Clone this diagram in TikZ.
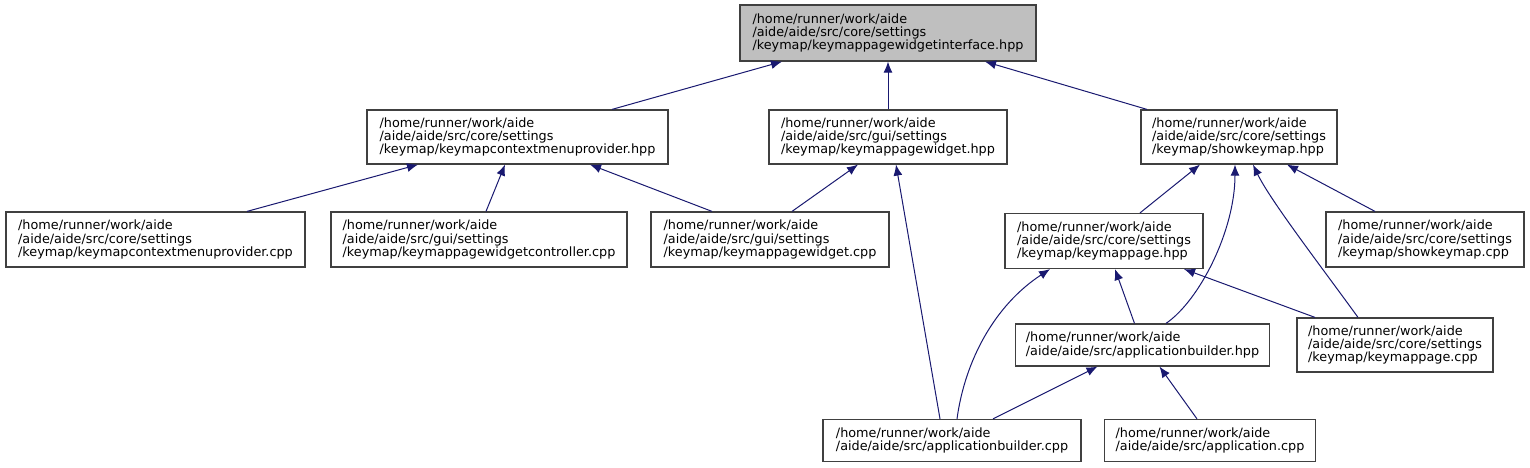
\documentclass[tikz,border=0pt]{standalone}
\usepackage{fontspec}
\setmainfont{DejaVu Sans}
\usetikzlibrary{arrows.meta}
\definecolor{navyEdge}{RGB}{25,25,112}
\definecolor{greyBorder}{RGB}{64,64,64}
\definecolor{greyFill}{RGB}{191,191,191}

\begin{document}
\begin{tikzpicture}[x=1pt,y=-1pt,
        file/.style={draw=greyBorder,line width=1.2pt,fill=white,align=left,
          inner sep=0pt,minimum height=54pt,
          font=\fontsize{12.8}{13.3}\selectfont},
        focus/.style={file,fill=greyFill},
        incl/.style={draw=navyEdge,line width=1pt,
          -{Latex[length=11pt,width=9pt]}}
      ]
        \useasboundingbox (0,0) rectangle (1530,468);

        % Le fichier inclus, en haut.
        \node[focus,minimum width=296pt,minimum height=56pt] (iface) at (888,33)
          {/home/runner/work/aide\\/aide/aide/src/core/settings\\/keymap/keymappagewidgetinterface.hpp};

        % Deuxième rang.
        \node[file,minimum width=301pt] (ctxhpp) at (517.5,137)
          {/home/runner/work/aide\\/aide/aide/src/core/settings\\/keymap/keymapcontextmenuprovider.hpp};
        \node[file,minimum width=238pt] (kpwhpp) at (888,137)
          {/home/runner/work/aide\\/aide/aide/src/gui/settings\\/keymap/keymappagewidget.hpp};
        \node[file,minimum width=196pt] (skmhpp) at (1239,137)
          {/home/runner/work/aide\\/aide/aide/src/core/settings\\/keymap/showkeymap.hpp};

        % Troisième rang.
        \node[file,minimum width=299pt,minimum height=55pt] (ctxcpp) at (155.5,239.5)
          {/home/runner/work/aide\\/aide/aide/src/core/settings\\/keymap/keymapcontextmenuprovider.cpp};
        \node[file,minimum width=296pt,minimum height=55pt] (kpwccpp) at (479,239.5)
          {/home/runner/work/aide\\/aide/aide/src/gui/settings\\/keymap/keymappagewidgetcontroller.cpp};
        \node[file,minimum width=238pt,minimum height=55pt] (kpwcpp) at (770,239.5)
          {/home/runner/work/aide\\/aide/aide/src/gui/settings\\/keymap/keymappagewidget.cpp};
        \node[file,minimum width=198pt,minimum height=55pt] (kmphpp) at (1104,241)
          {/home/runner/work/aide\\/aide/aide/src/core/settings\\/keymap/keymappage.hpp};
        \node[file,minimum width=198pt,minimum height=55pt] (skmcpp) at (1425,239.5)
          {/home/runner/work/aide\\/aide/aide/src/core/settings\\/keymap/showkeymap.cpp};

        % Quatrième rang.
        \node[file,minimum width=254pt,minimum height=42pt] (abhpp) at (1142.5,345)
          {/home/runner/work/aide\\/aide/aide/src/applicationbuilder.hpp};
        \node[file,minimum width=196pt] (kmpcpp) at (1395,345)
          {/home/runner/work/aide\\/aide/aide/src/core/settings\\/keymap/keymappage.cpp};

        % Dernier rang.
        \node[file,minimum width=258pt,minimum height=42pt] (abcpp) at (952,440.5)
          {/home/runner/work/aide\\/aide/aide/src/applicationbuilder.cpp};
        \node[file,minimum width=211pt,minimum height=42pt] (appcpp) at (1210,440.5)
          {/home/runner/work/aide\\/aide/aide/src/application.cpp};

        % Les inclusions.
        \draw[incl] ([xshift=94.5pt]ctxhpp.north) -- ([xshift=-106pt]iface.south);
        \draw[incl] (kpwhpp.north) -- (iface.south);
        \draw[incl] ([xshift=-92pt]skmhpp.north) -- ([xshift=97pt]iface.south);

        \draw[incl] ([xshift=91.5pt]ctxcpp.north) -- ([xshift=-99.5pt]ctxhpp.south);
        \draw[incl] ([xshift=7pt]kpwccpp.north) -- ([xshift=-12.5pt]ctxhpp.south);
        \draw[incl] ([xshift=-58pt]kpwcpp.north) -- ([xshift=72.5pt]ctxhpp.south);
        \draw[incl] ([xshift=22pt]kpwcpp.north) -- ([xshift=-30pt]kpwhpp.south);
        \draw[incl] ([xshift=-12pt]abcpp.north) -- ([xshift=8pt]kpwhpp.south);

        \draw[incl] ([xshift=36pt]kmphpp.north) -- ([xshift=-39pt]skmhpp.south);
        \draw[incl] ([xshift=23.5pt]abhpp.north)
          .. controls (1200,300) and (1235,230) .. ([xshift=-4pt]skmhpp.south);
        \draw[incl] ([xshift=-37pt]kmpcpp.north)
          .. controls (1320,265) and (1270,200) .. ([xshift=14pt]skmhpp.south);
        \draw[incl] ([xshift=-50pt]skmcpp.north) -- ([xshift=48pt]skmhpp.south);

        \draw[incl] ([xshift=5pt]abcpp.north)
          .. controls (965,360) and (995,305) .. ([xshift=-54pt]kmphpp.south);
        \draw[incl] ([xshift=-8pt]abhpp.north) -- ([xshift=11pt]kmphpp.south);
        \draw[incl] ([xshift=-80pt]kmpcpp.north) -- ([xshift=80pt]kmphpp.south);

        \draw[incl] ([xshift=41pt]abcpp.north) -- ([xshift=-45pt]abhpp.south);
        \draw[incl] ([xshift=-13pt]appcpp.north) -- ([xshift=17pt]abhpp.south);
      \end{tikzpicture}
\end{document}
